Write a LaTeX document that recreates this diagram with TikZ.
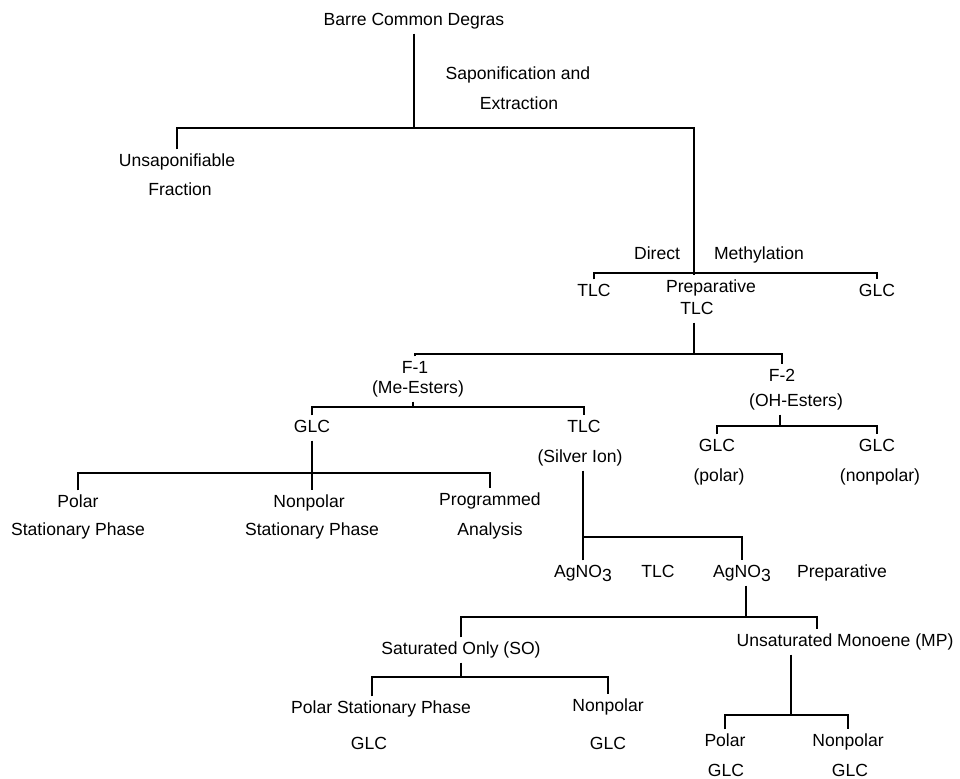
\documentclass[tikz,border=0pt]{standalone}
\usepackage{fontspec}
\setmainfont{Liberation Sans}
\usepackage{tikz}
\usetikzlibrary{positioning, calc}

\begin{document}
\begin{tikzpicture}[x=0.02cm, y=-0.02cm, line width=0.8pt,
        lbl/.style={font=\fontsize{10}{12}\selectfont, inner sep=0pt, inner ysep=2pt, text height=7.5pt, text depth=2pt}]
        \useasboundingbox (0,0) rectangle (960,778);

        % Top of the scheme
        \node[lbl] (root) at (414,21) {Barre Common Degras};
        \node[lbl] (sap) at (518,75) {Saponification and};
        \node[lbl] (extr) at (519,105) {Extraction};
        \node[lbl] (unsap) at (177,162) {Unsaponifiable};
        \node[lbl] (frac) at (180,191) {Fraction};
        \node[lbl] (direct) at (657,255) {Direct};
        \node[lbl] (meth) at (759,255) {Methylation};
        \node[lbl] (tlcA) at (594,292) {TLC};
        \node[lbl] (prep) at (711,288) {Preparative};
        \node[lbl] (prepb) at (697,310) {TLC};
        \node[lbl] (glcA) at (877,292) {GLC};

        % Fractions
        \node[lbl] (fone) at (415,369) {F-1};
        \node[lbl] (foneb) at (418,389) {(Me-Esters)};
        \node[lbl] (ftwo) at (782,377) {F-2};
        \node[lbl] (ftwob) at (796,402) {(OH-Esters)};
        \node[lbl] (glcB) at (312,428) {GLC};
        \node[lbl] (tlcB) at (584,428) {TLC};
        \node[lbl] (silver) at (580,458) {(Silver Ion)};
        \node[lbl] (glcP) at (717,447) {GLC};
        \node[lbl] (polP) at (719,477) {(polar)};
        \node[lbl] (glcN) at (877,447) {GLC};
        \node[lbl] (nonN) at (880,477) {(nonpolar)};
        \node[lbl] (polar) at (78,503) {Polar};
        \node[lbl] (statA) at (78,531) {Stationary Phase};
        \node[lbl] (nonpol) at (309,503) {Nonpolar};
        \node[lbl] (statB) at (312,531) {Stationary Phase};
        \node[lbl] (progr) at (490,501) {Programmed};
        \node[lbl] (anal) at (490,531) {Analysis};

        % Silver ion TLC
        \node[lbl] (agl) at (583,573) {AgNO\raisebox{-2pt}{3}};
        \node[lbl] (tlcC) at (658,573) {TLC};
        \node[lbl] (agr) at (742,573) {AgNO\raisebox{-2pt}{3}};
        \node[lbl] (prepC) at (842,573) {Preparative};
        \node[lbl] (so) at (461,650) {Saturated Only (SO)};
        \node[lbl] (mp) at (845,642) {Unsaturated Monoene (MP)};
        \node[lbl] (psp) at (381,709) {Polar Stationary Phase};
        \node[lbl] (glcS) at (369,745) {GLC};
        \node[lbl] (nonS) at (608,707) {Nonpolar};
        \node[lbl] (glcT) at (608,745) {GLC};
        \node[lbl] (polM) at (725,742) {Polar};
        \node[lbl] (glcM) at (726,772) {GLC};
        \node[lbl] (nonM) at (848,742) {Nonpolar};
        \node[lbl] (glcMb) at (850,772) {GLC};

        \coordinate (j1) at (414,128);
        \coordinate (j2) at (694,273);
        \coordinate (j3) at (694,354);
        \coordinate (j4) at (413,407);
        \coordinate (j5) at (312,473);
        \coordinate (j6) at (583,537);
        \coordinate (j7) at (746,617);
        \coordinate (j7r) at (817,617);
        \coordinate (j8) at (461,677);
        \coordinate (j8l) at (372,677);
        \coordinate (j9) at (791,715);
        \coordinate (j10) at (780,426);

        % Brackets
        \draw (root) -- (j1);
        \draw (unsap.north) |- (j1) -| (j2);
        \draw (j2) -- (j2 |- prep.north);
        \draw (tlcA.north) |- (j2) -| (glcA.north);
        \draw (j3 |- prepb.south) -- (j3);
        \draw (fone.north) |- (j3) -| (ftwo.north);
        \draw (j4 |- foneb.south) -- (j4);
        \draw (glcB.north) |- (j4) -| (tlcB.north);
        \draw (glcB.south) -- (glcB.south |- nonpol.north);
        \draw (polar.north) |- (j5) -| (progr.north);
        \draw (j10 |- ftwob.south) -- (j10);
        \draw (glcP.north) |- (j10) -| (glcN.north);
        \draw (j6 |- silver.south) -- (j6);
        \draw (agl.north) |- (j6) -| (agr.north);
        \draw (j7 |- agr.south) -- (j7);
        \draw (so.north) |- (j7) -- (j7r) -- (j7r |- mp.north);
        \draw (j8 |- so.south) -- (j8);
        \draw (j8l |- psp.north) -- (j8l) -- (j8) -| (nonS.north);
        \draw (j9 |- mp.south) -- (j9);
        \draw (polM.north) |- (j9) -| (nonM.north);
    \end{tikzpicture}
\end{document}
